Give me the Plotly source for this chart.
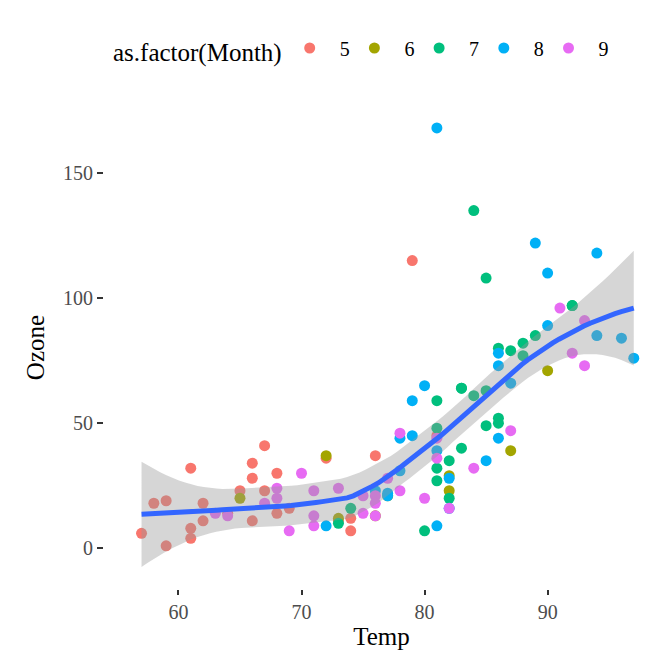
import numpy as np
import plotly.graph_objects as go

# airquality data (rows with non-missing Ozone), grouped by Month
months = ["5", "6", "7", "8", "9"]
colors = ["#F8766D", "#A3A500", "#00BF7D", "#00B0F6", "#E76BF3"]

temp_5 = [67, 72, 74, 62, 66, 65, 59, 61, 74, 69, 66, 68, 58, 64, 66, 57, 68, 62, 59, 73, 61, 61, 67, 81, 79, 76]
ozone_5 = [41, 36, 12, 18, 28, 23, 19, 8, 7, 16, 11, 14, 18, 14, 34, 6, 30, 11, 1, 11, 4, 32, 23, 45, 115, 37]

temp_6 = [82, 90, 87, 82, 77, 72, 65, 73, 76]
ozone_6 = [29, 71, 39, 23, 21, 37, 20, 12, 13]

temp_7 = [84, 85, 81, 83, 83, 88, 92, 92, 89, 73, 81, 80, 81, 82, 84, 87, 85, 74, 86, 85, 82, 86, 88, 86, 83, 81]
ozone_7 = [135, 49, 32, 64, 40, 77, 97, 97, 85, 10, 27, 7, 48, 35, 61, 79, 63, 16, 80, 108, 20, 52, 82, 50, 64, 59]

temp_8 = [81, 81, 82, 86, 85, 87, 89, 90, 90, 86, 82, 80, 77, 79, 76, 78, 78, 77, 72, 79, 81, 86, 97, 94, 96, 94]
ozone_8 = [39, 9, 16, 78, 35, 66, 122, 89, 110, 44, 28, 65, 22, 59, 23, 31, 44, 21, 9, 45, 168, 73, 76, 118, 84, 85]

temp_9 = [91, 92, 93, 93, 87, 84, 80, 78, 75, 73, 81, 76, 77, 71, 71, 78, 67, 76, 68, 82, 64, 71, 81, 69, 63, 70, 75, 76, 68]
ozone_9 = [96, 78, 73, 91, 47, 32, 20, 23, 21, 24, 44, 21, 28, 9, 13, 46, 18, 13, 24, 16, 13, 23, 36, 7, 14, 30, 14, 18, 20]

# Temp of rows whose Ozone is missing (not drawn, but they still train the x scale)
temp_missing_ozone = [56, 69, 57, 58, 57, 78, 74, 67, 84, 85, 79, 87, 93, 92, 80, 79, 77, 76, 76,
                      76, 75, 78, 73, 80, 77, 83, 84, 82, 81, 82, 91, 92, 86, 79, 75, 88, 77]

temps = [temp_5, temp_6, temp_7, temp_8, temp_9]
ozones = [ozone_5, ozone_6, ozone_7, ozone_8, ozone_9]

# ---- loess (span 0.75, degree 2, kd-tree + cubic Hermite interpolation) ----
x = np.array(sum(temps, []), dtype=float)
y = np.array(sum(ozones, []), dtype=float)
n = len(x)
span = 0.75
cell = 0.2
q = int(np.floor(n * span))
fc = int(np.floor(n * span * cell))


def local_rows(x0):
    d = np.abs(x - x0)
    h = max(np.sort(d)[q - 1], 1e-12)
    u = d / h
    w = np.where(u < 1, (1 - u ** 3) ** 3, 0.0)
    X = np.column_stack([np.ones(n), x - x0, (x - x0) ** 2])
    XtW = X.T * w
    B = np.linalg.solve(XtW @ X, XtW)
    return B[0], B[1]


xsorted = np.sort(x)
rng = xsorted[-1] - xsorted[0]
mu = 0.005 * rng
vlo0, vhi0 = xsorted[0] - mu, xsorted[-1] + mu
verts = {vlo0, vhi0}


def build(lo, hi, vlo, vhi):
    l, u = lo + 1, hi
    if (u - l + 1) <= fc:
        return
    m = (l + u) // 2
    off = 0
    while True:
        if (m + off) >= u or (m + off) < l:
            break
        if xsorted[m + off - 1] == xsorted[m + off]:
            off = -off
            if off >= 0:
                off += 1
        else:
            m = m + off
            break
    xi = xsorted[m - 1]
    if xi == vlo or xi == vhi:
        return
    verts.add(xi)
    build(lo, m, vlo, xi)
    build(m, hi, xi, vhi)


build(0, n, vlo0, vhi0)
V = np.array(sorted(verts))
vrows = [local_rows(v) for v in V]


def interp_row(x0):
    k = int(np.clip(np.searchsorted(V, x0, side="right") - 1, 0, len(V) - 2))
    a, b = V[k], V[k + 1]
    hh = b - a
    t = (x0 - a) / hh
    h00 = 2 * t ** 3 - 3 * t ** 2 + 1
    h10 = t ** 3 - 2 * t ** 2 + t
    h01 = -2 * t ** 3 + 3 * t ** 2
    h11 = t ** 3 - t ** 2
    fa, sa = vrows[k]
    fb, sb = vrows[k + 1]
    return h00 * fa + h10 * hh * sa + h01 * fb + h11 * hh * sb


L = np.array([interp_row(xi) for xi in x])
res = y - L @ y
IL = np.eye(n) - L
M = IL.T @ IL
delta1 = np.trace(M)
delta2 = np.trace(M @ M)
sigma = np.sqrt(np.sum(res ** 2) / delta1)
df = delta1 ** 2 / delta2
z = 1.959963984540054
tq = z + (z ** 3 + z) / (4 * df) + (5 * z ** 5 + 16 * z ** 3 + 3 * z) / (96 * df ** 2)

xs = np.linspace(x.min(), x.max(), 80)
rows = np.array([interp_row(v) for v in xs])
fit = rows @ y
se = sigma * np.sqrt(np.sum(rows ** 2, axis=1))
lower = fit - tq * se
upper = fit + tq * se

# axis ranges with ggplot-style 5% expansion (x scale trained on all rows)
all_temp = np.concatenate([x, np.array(temp_missing_ozone, dtype=float)])
xmin, xmax = all_temp.min(), all_temp.max()
xpad = (xmax - xmin) * 0.05
ymin = min(y.min(), lower.min())
ymax = max(y.max(), upper.max())
ypad = (ymax - ymin) * 0.05

FONT = "Liberation Serif"

fig = go.Figure()
for m, c, tx, oz in zip(months, colors, temps, ozones):
    fig.add_trace(go.Scatter(
        x=tx, y=oz, mode="markers", name="\u00a0\u00a0" + m,
        marker=dict(color=c, size=11, line=dict(width=0)),
    ))

fig.add_trace(go.Scatter(
    x=np.concatenate([xs, xs[::-1]]), y=np.concatenate([upper, lower[::-1]]),
    fill="toself", fillcolor="rgba(153,153,153,0.4)", line=dict(width=0),
    mode="lines", showlegend=False, hoverinfo="skip",
))
fig.add_trace(go.Scatter(
    x=xs, y=fit, mode="lines", line=dict(color="#3366FF", width=5),
    showlegend=False,
))

fig.update_layout(
    template="none",
    width=669, height=651, autosize=False,
    margin=dict(l=104, r=10, t=106, b=62, pad=0),
    plot_bgcolor="white", paper_bgcolor="white",
    font=dict(family=FONT, color="black"),
    showlegend=True,
    legend=dict(
        orientation="h", xref="container", yref="container",
        x=111 / 669, xanchor="left", y=1 - 50 / 651, yanchor="middle",
        title=dict(text="as.factor(Month)", side="left", font=dict(size=25, family=FONT)),
        font=dict(size=20, family=FONT, color="black"),
        entrywidth=19.7, entrywidthmode="pixels",
        bgcolor="rgba(0,0,0,0)", borderwidth=0,
    ),
    xaxis=dict(
        range=[xmin - xpad, xmax + xpad], tickvals=[60, 70, 80, 90],
        ticks="outside", ticklen=5, tickwidth=1.5, tickcolor="#333333",
        tickfont=dict(size=20, color="#4D4D4D", family=FONT),
        showgrid=False, zeroline=False, showline=False, automargin=False,
        title=dict(text="Temp", font=dict(size=25, family=FONT), standoff=5),
    ),
    yaxis=dict(
        range=[ymin - ypad, ymax + ypad], tickvals=[0, 50, 100, 150],
        ticks="outside", ticklen=6, tickwidth=1.5, tickcolor="#333333",
        tickfont=dict(size=20, color="#4D4D4D", family=FONT),
        showgrid=False, zeroline=False, showline=False, automargin=False,
        title=dict(text="Ozone", font=dict(size=25, family=FONT), standoff=11),
    ),
)

fig.write_html(
    "out.html",
    config={"displayModeBar": False},
    post_script="document.body.style.margin='0px';document.body.style.padding='0px';",
)
